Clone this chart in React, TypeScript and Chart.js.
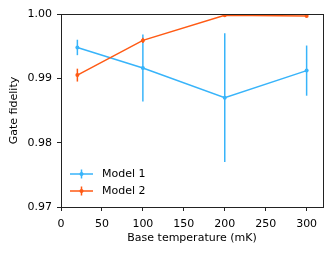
import React, { useEffect, useRef } from "react";
import { Chart, registerables } from "chart.js";

Chart.register(...registerables);

const temperatures = [20, 100, 200, 300];
const model1Values = [0.9948, 0.9916, 0.9870, 0.9912];
const model1Errors = [0.0012, 0.0052, 0.0100, 0.0039];
const model2Values = [0.9905, 0.9959, 0.9998, 0.9997];
const model2Errors = [0.0010, 0.0004, 0.0001, 0.0001];
const seriesLabels = ["Model 1", "Model 2"];
const seriesColors = ["#38b4fa", "#ff5a14"];
const xTicks = [0, 50, 100, 150, 200, 250, 300];
const yTicks = [0.97, 0.98, 0.99, 1.0];

const FONT = "'DejaVu Sans', sans-serif";
const FS = 11;

const errorBarPlugin = {
  id: "errorBars",
  beforeDatasetDraw(chart: any, args: any) {
    const ds = chart.data.datasets[args.index];
    const errs: number[] = ds.errors;
    if (!errs) return;
    const x = chart.scales.x;
    const y = chart.scales.y;
    const ctx = chart.ctx;
    const a = chart.chartArea;
    ctx.save();
    ctx.beginPath();
    ctx.rect(a.left, a.top, a.right - a.left, a.bottom - a.top);
    ctx.clip();
    ctx.strokeStyle = ds.borderColor;
    ctx.lineWidth = 1.5;
    ds.data.forEach((p: any, i: number) => {
      const px = x.getPixelForValue(p.x);
      ctx.beginPath();
      ctx.moveTo(px, y.getPixelForValue(p.y - errs[i]));
      ctx.lineTo(px, y.getPixelForValue(p.y + errs[i]));
      ctx.stroke();
    });
    ctx.restore();
  },
};

const framePlugin = {
  id: "frame",
  afterDatasetsDraw(chart: any) {
    const ctx = chart.ctx;
    const a = chart.chartArea;
    ctx.save();
    ctx.strokeStyle = "#222";
    ctx.lineWidth = 1;
    ctx.strokeRect(Math.round(a.left) + 0.5, Math.round(a.top) + 0.5, Math.round(a.right - a.left), Math.round(a.bottom - a.top));
    ctx.restore();
  },
};

const legendPlugin = {
  id: "customLegend",
  afterDraw(chart: any) {
    const ctx = chart.ctx;
    const a = chart.chartArea;
    ctx.save();
    ctx.font = `${FS}px ${FONT}`;
    ctx.textBaseline = "middle";
    chart.data.datasets.forEach((ds: any, i: number) => {
      const yy = a.bottom - 33 + i * 17;
      const x0 = a.left + 9;
      const x1 = x0 + 23;
      const xc = (x0 + x1) / 2;
      ctx.strokeStyle = ds.borderColor;
      ctx.lineWidth = 1.5;
      ctx.beginPath();
      ctx.moveTo(x0, yy);
      ctx.lineTo(x1, yy);
      ctx.moveTo(xc, yy - 4.5);
      ctx.lineTo(xc, yy + 4.5);
      ctx.stroke();
      ctx.fillStyle = ds.borderColor;
      ctx.beginPath();
      ctx.arc(xc, yy, 2, 0, Math.PI * 2);
      ctx.fill();
      ctx.fillStyle = "#000";
      ctx.fillText(ds.label, x1 + 9, yy + 0.5);
    });
    ctx.restore();
  },
};

export default function App() {
  const ref = useRef<HTMLCanvasElement>(null);
  useEffect(() => {
    if (!ref.current) return;
    const mk = (vals: number[]) => temperatures.map((t, i) => ({ x: t, y: vals[i] }));
    const chart = new Chart(ref.current, {
      type: "line",
      data: {
        datasets: [
          {
            label: seriesLabels[0],
            data: mk(model1Values),
            errors: model1Errors,
            borderColor: seriesColors[0],
            backgroundColor: seriesColors[0],
            borderWidth: 1.5,
            pointRadius: 2,
            pointBorderWidth: 0,
            order: 1,
          } as any,
          {
            label: seriesLabels[1],
            data: mk(model2Values),
            errors: model2Errors,
            borderColor: seriesColors[1],
            backgroundColor: seriesColors[1],
            borderWidth: 1.5,
            pointRadius: 2,
            pointBorderWidth: 0,
            order: 0,
          } as any,
        ],
      },
      options: {
        animation: false,
        responsive: false,
        devicePixelRatio: 1,
        layout: { padding: { top: 14, right: 10, left: 0, bottom: 0 } },
        plugins: { legend: { display: false }, tooltip: { enabled: false } },
        scales: {
          x: {
            type: "linear",
            min: 0,
            max: 320,
            afterBuildTicks: (s: any) => {
              s.ticks = xTicks.map((v) => ({ value: v }));
            },
            afterFit: (s: any) => {
              s.height = 47;
            },
            grid: { drawOnChartArea: false, drawTicks: true, tickLength: 4, color: "#222" },
            border: { display: false },
            ticks: {
              color: "#000",
              font: { family: FONT, size: FS },
              padding: 7,
              maxRotation: 0,
              callback: (v: any) => String(v),
            },
            title: {
              display: true,
              text: "Base temperature (mK)",
              color: "#000",
              font: { family: FONT, size: FS },
              padding: { top: 1, bottom: 9 },
            },
          },
          y: {
            type: "linear",
            min: 0.97,
            max: 1.0,
            afterBuildTicks: (s: any) => {
              s.ticks = yTicks.map((v) => ({ value: v }));
            },
            afterFit: (s: any) => {
              s.width = 61;
            },
            grid: { drawOnChartArea: false, drawTicks: true, tickLength: 4, color: "#222" },
            border: { display: false },
            ticks: {
              color: "#000",
              font: { family: FONT, size: FS },
              padding: 5,
              callback: (v: any) => Number(v).toFixed(2),
            },
            title: {
              display: true,
              text: "Gate fidelity",
              color: "#000",
              font: { family: FONT, size: FS },
              padding: { top: 8, bottom: 0 },
            },
          },
        },
      },
      plugins: [errorBarPlugin, framePlugin, legendPlugin],
    });
    return () => chart.destroy();
  }, []);
  return (
    <div style={{ position: "absolute", left: 0, top: 0, width: 333, height: 254, background: "#fff" }}>
      <canvas ref={ref} width={333} height={254} />
    </div>
  );
}
